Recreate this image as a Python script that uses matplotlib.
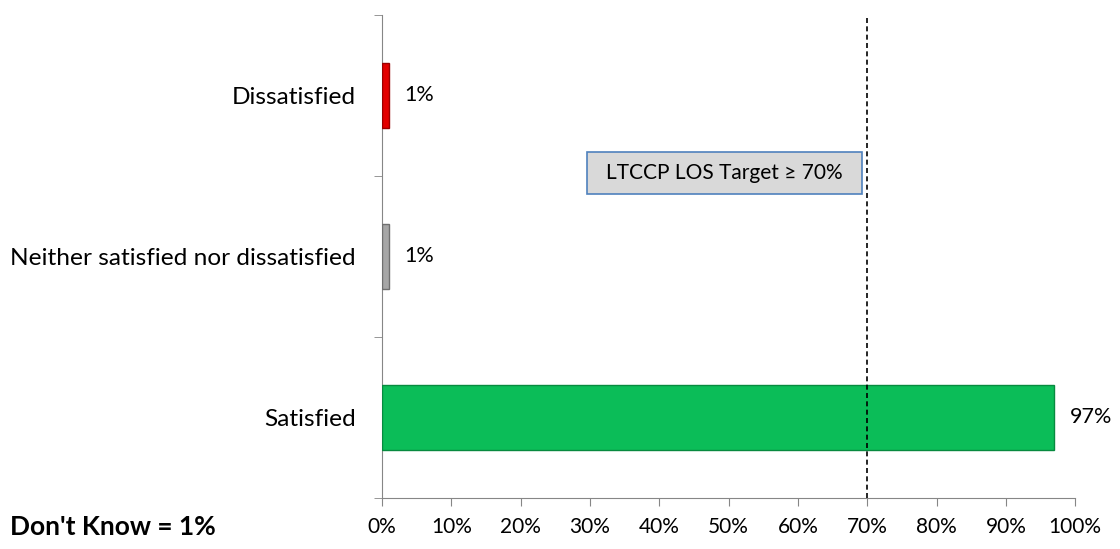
import numpy as np
import matplotlib.pyplot as plt
from matplotlib.patches import Rectangle

categories = ['Satisfied', 'Neither satisfied nor dissatisfied', 'Dissatisfied']
values = [97, 1, 1]
bar_colors = ['#0bbd58', '#a6a6a6', '#e30000']
edge_colors = ['#078a3f', '#6f6f6f', '#9a0000']
target = 70
target_label = 'LTCCP LOS Target \u2265 70%'
note = "Don't Know = 1%"

plt.rcParams['font.family'] = ['Lato', 'DejaVu Sans']

fig = plt.figure(figsize=(11.2, 5.49), dpi=100)
ax = fig.add_axes([0.341, 0.093, 0.619, 0.880])

y = np.arange(len(categories))
ax.barh(y, values, height=0.40, color=bar_colors, edgecolor=edge_colors, linewidth=1.0, zorder=3)
for yi, v in zip(y, values):
    ax.annotate(f'{v}%', (v, yi), xytext=(11, 0), textcoords='offset points',
                va='center', ha='left', fontsize=15.5)

ax.axvline(target, color='black', linestyle=(0, (3, 2)), linewidth=1.2, zorder=4)
# target box
ax.add_patch(Rectangle((29.6, 1.39), 39.7, 0.26, facecolor='#d9d9d9', edgecolor='#4f81bd',
                       linewidth=1.2, zorder=5))
ax.text(49.45, 1.52, target_label, ha='center', va='center', fontsize=15, zorder=6)

ax.set_xlim(0, 100)
ax.set_ylim(-0.5, 2.5)
ax.set_xticks(np.arange(0, 101, 10))
ax.set_xticklabels([f'{t}%' for t in range(0, 101, 10)], fontsize=15)
ax.set_yticks(y)
ax.set_yticklabels(categories, fontsize=17.6)
ax.tick_params(axis='y', length=0, pad=19)
ax.set_yticks([-0.5, 0.5, 1.5, 2.5], minor=True)
ax.tick_params(axis='y', which='minor', length=6, color='#868686', direction='out')
ax.tick_params(axis='x', length=6, color='#868686', direction='out', pad=8)

for s in ['top', 'right']:
    ax.spines[s].set_visible(False)
for s in ['left', 'bottom']:
    ax.spines[s].set_color('#868686')

fig.text(0.009, 0.04, note, fontsize=19, fontweight='bold', ha='left', va='center')

fig.savefig('out.png', dpi=100)
